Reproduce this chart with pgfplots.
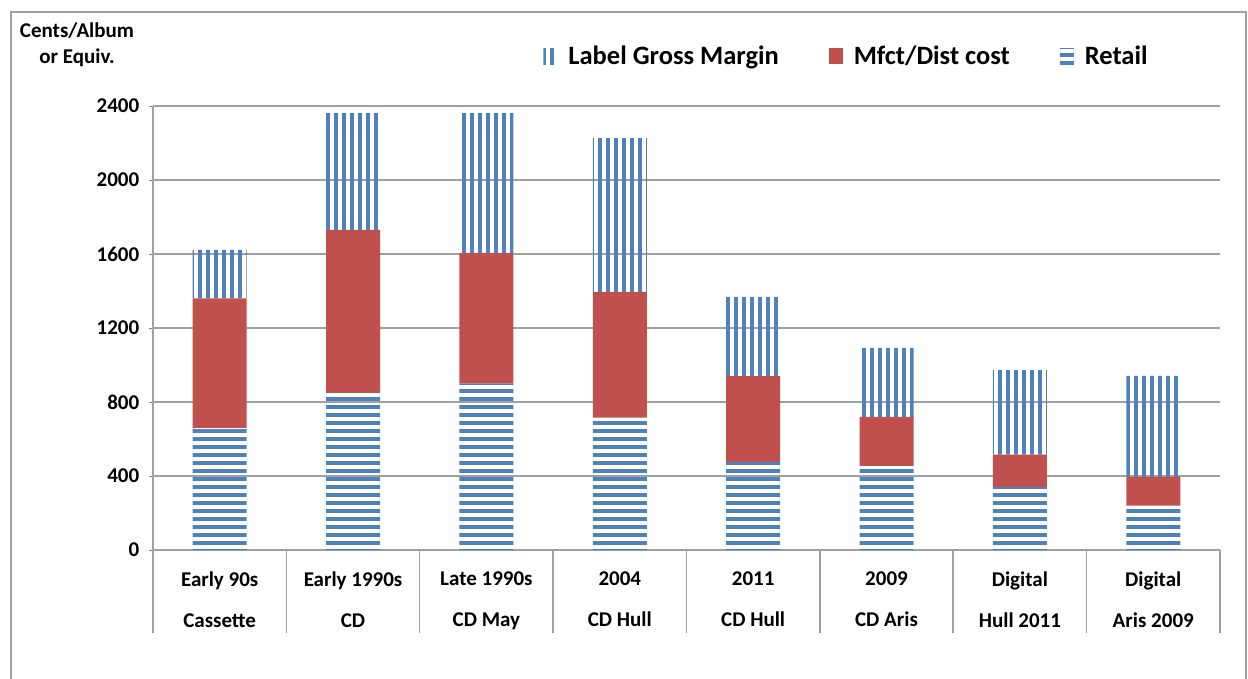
\documentclass[border=0pt]{standalone}
\usepackage{fontspec}
\setmainfont{Carlito}
\usepackage{pgfplots}
\pgfplotsset{compat=1.18}
\usetikzlibrary{patterns.meta}
\definecolor{barblue}{HTML}{4F81BD}
\definecolor{barred}{HTML}{C0504D}
\definecolor{gridgray}{HTML}{A0A0A0}
\begin{document}
\begin{tikzpicture}[x=1bp,y=1bp]
\useasboundingbox (0,0) rectangle (1248,-679);
\draw[gridgray, line width=1.5bp] (11,-690) -- (11,-12) -- (1246,-12) -- (1246,-690);
\node[font=\bfseries\fontsize{21bp}{26bp}\selectfont, align=center] at (77,-45) {Cents/Album\\or Equiv.};
\begin{axis}[
  at={(153bp,-550bp)}, anchor=south west,
  width=1067bp, height=444bp, scale only axis,
  ymin=0, ymax=2400, ytick={0,400,...,2400},
  yticklabels={0,400,800,1200,1600,2000,2400},
  yticklabel style={black, align=right, font=\bfseries\fontsize{21bp}{24bp}\selectfont, xshift=-6bp},
  xmin=-0.5, xmax=7.5,
  ybar stacked, bar width=54bp,
  axis x line*=bottom, axis y line*=left,
  axis line style={gridgray, line width=1.5bp},
  ymajorgrids, grid style={gridgray, line width=1.5bp},
  tick align=outside,
  xtick={0,...,7},
  xtick style={draw=none},
  xticklabels={{Early 90s\\Cassette},{Early 1990s\\CD},{Late 1990s\\CD May},{2004\\CD Hull},{2011\\CD Hull},{2009\\CD Aris},{Digital\\Hull 2011},{Digital\\Aris 2009}},
  xticklabel style={align=center, font=\bfseries\fontsize{21bp}{41bp}\selectfont, yshift=-14bp},
  extra x ticks={-0.5,0.5,...,7.5},
  extra x tick labels={},
  extra x tick style={xtick style={draw=gridgray, line width=1.5bp, /pgfplots/major tick length=83bp}},
  legend style={at={(0.65,1.1126)}, anchor=center, draw=none, fill=none,
    font=\bfseries\fontsize{26.5bp}{30bp}\selectfont,
    /tikz/every odd column/.append style={column sep=9bp},
    /tikz/every even column/.append style={column sep=48bp}},
  legend columns=3, reverse legend, legend cell align=left,
  legend image code/.code={\path[#1, draw=none] (0bp,-8bp) rectangle (14bp,8bp);},
]
\addplot[draw=none, pattern={Lines[angle=0,distance=8bp,line width=4bp]}, pattern color=barblue]
  coordinates {(0,660) (1,850) (2,900) (3,715) (4,475) (5,455) (6,340) (7,240)};
\addplot[draw=none, fill=barred]
  coordinates {(0,700) (1,880) (2,705) (3,680) (4,465) (5,265) (6,175) (7,155)};
\addplot[draw=none, pattern={Lines[angle=90,distance=8bp,line width=4bp]}, pattern color=barblue]
  coordinates {(0,262) (1,632) (2,757) (3,832) (4,428) (5,372) (6,458) (7,546)};
\legend{Retail, Mfct/Dist cost, Label Gross Margin}
\end{axis}
\end{tikzpicture}
\end{document}
